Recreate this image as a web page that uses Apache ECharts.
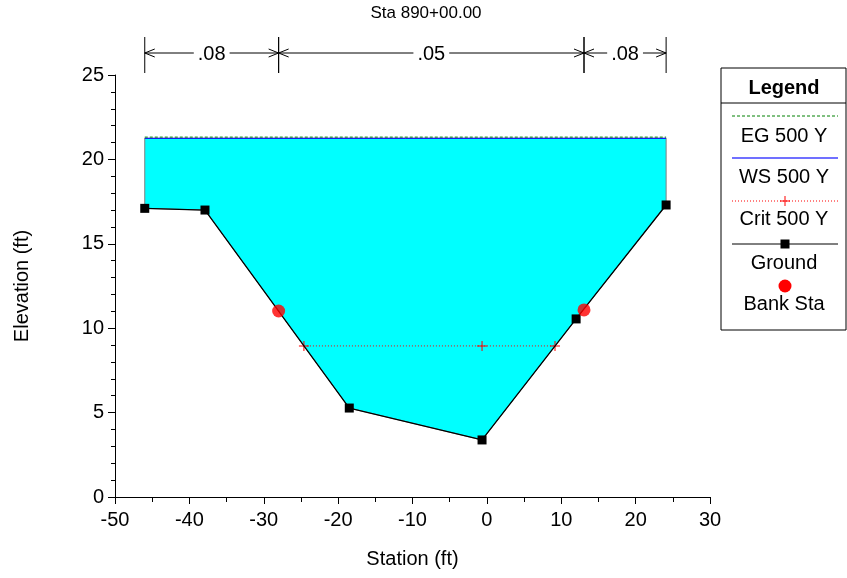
<!DOCTYPE html>
<html><head><meta charset="utf-8">
<script src="https://cdn.jsdelivr.net/npm/echarts@6/dist/echarts.min.js"></script>
<style>html,body{margin:0;padding:0;background:#fff}#c{width:847px;height:578px}</style>
</head><body><div id="c"></div>
<script>
// ---- data ----
const groundX = [-46.0, -37.9, -18.5, -0.65, 12.0, 24.1];
const groundY = [17.1, 17.0, 5.27, 3.38, 10.55, 17.3];
const bankX = [-28.0, 13.06];
const bankY = [11.02, 11.08];
const critX = [-24.6, -0.65, 9.16];
const critY = [8.95, 8.95, 8.95];
const wsElev = 21.25;
const egElev = 21.32;
const nBreaks = [-46.0, -28.0, 13.06, 24.1];
const nValues = ['.08', '.05', '.08'];
const xTicks = [-50, 30, 10];
const yTicks = [0, 25, 5];

const FONT = 'Liberation Sans, Arial, sans-serif';
const FS = 20;
const chart = echarts.init(document.getElementById('c'), null, {renderer: 'canvas'});

const groundData = groundX.map((x, i) => [x, groundY[i]]);
const bankData = bankX.map((x, i) => [x, bankY[i]]);
const critData = critX.map((x, i) => [x, critY[i]]);
const wsData = [[groundX[0], wsElev], [groundX[groundX.length - 1], wsElev]];
const egData = [[groundX[0], egElev], [groundX[groundX.length - 1], egElev]];
const nData = nValues.map((v, i) => [nBreaks[i], nBreaks[i + 1], v]);

const plusPath = 'path://M4.5,0H5.5V4.5H10V5.5H5.5V10H4.5V5.5H0V4.5H4.5Z';
const txt = (t, y, bold) => ({type: 'text', x: 63, y: y, style: {text: t, fill: '#000',
  font: (bold ? 'bold ' : '') + FS + 'px ' + FONT, align: 'center', verticalAlign: 'middle'}});

const option = {
  animation: false,
  backgroundColor: '#fff',
  title: {
    text: 'Sta 890+00.00', left: 421, top: 0, textAlign: 'center',
    textStyle: {fontFamily: FONT, fontSize: 17, fontWeight: 'normal', color: '#000'}
  },
  grid: {left: 115, top: 75, width: 595, height: 422},
  xAxis: {
    type: 'value', min: xTicks[0], max: xTicks[1], interval: xTicks[2],
    name: 'Station (ft)', nameLocation: 'middle', nameGap: 52,
    nameTextStyle: {fontFamily: FONT, fontSize: FS, color: '#000'},
    axisLine: {show: true, onZero: false, lineStyle: {color: '#000', width: 1}},
    axisTick: {show: true, length: 7, inside: false, lineStyle: {color: '#000'}},
    minorTick: {show: true, splitNumber: 2, length: 5, lineStyle: {color: '#000'}},
    axisLabel: {fontFamily: FONT, fontSize: FS, color: '#000', margin: 13},
    splitLine: {show: false}
  },
  yAxis: {
    type: 'value', min: yTicks[0], max: yTicks[1], interval: yTicks[2],
    name: 'Elevation (ft)', nameLocation: 'middle', nameGap: 83, nameRotate: 90,
    nameTextStyle: {fontFamily: FONT, fontSize: FS, color: '#000'},
    axisLine: {show: true, onZero: false, lineStyle: {color: '#000', width: 1}},
    axisTick: {show: true, length: 7, lineStyle: {color: '#000'}},
    minorTick: {show: true, splitNumber: 5, length: 4, lineStyle: {color: '#000'}},
    axisLabel: {fontFamily: FONT, fontSize: FS, color: '#000', margin: 11},
    splitLine: {show: false}
  },
  series: [
    {
      type: 'custom', z: 1, silent: true,
      data: [0],
      renderItem: function (params, api) {
        const pts = [api.coord([groundX[0], wsElev])];
        groundData.forEach(p => pts.push(api.coord(p)));
        pts.push(api.coord([groundX[groundX.length - 1], wsElev]));
        return {type: 'polygon', shape: {points: pts},
          style: {fill: '#00ffff', stroke: '#808080', lineWidth: 1}};
      }
    },
    {
      name: 'WS 500 Y', type: 'line', data: wsData, symbol: 'none', z: 3,
      lineStyle: {color: '#0000ff', width: 1}
    },
    {
      name: 'EG 500 Y', type: 'line', data: egData, symbol: 'none', z: 4,
      lineStyle: {color: '#008000', width: 1, type: [3, 2]}
    },
    {
      name: 'Crit 500 Y', type: 'line', data: critData, z: 5,
      symbol: plusPath, symbolSize: 10, showAllSymbol: true,
      itemStyle: {color: '#ff0000'},
      lineStyle: {color: '#ff0000', width: 1, type: [1, 2]}
    },
    {
      name: 'Ground', type: 'line', data: groundData, z: 6,
      symbol: 'rect', symbolSize: 9, showAllSymbol: true,
      itemStyle: {color: '#000'},
      lineStyle: {color: '#000', width: 1.3}
    },
    {
      name: 'Bank Sta', type: 'scatter', data: bankData, z: 7,
      symbol: 'circle', symbolSize: 13, itemStyle: {color: '#ff0000'}
    },
    {
      type: 'custom', z: 8, silent: true, clip: false,
      data: nData,
      renderItem: function (params, api) {
        const x1 = api.coord([api.value(0), 25])[0];
        const x2 = api.coord([api.value(1), 25])[0];
        const top = api.coord([api.value(0), 25])[1];
        const yTop = top - 38, yBot = top - 2, y = top - 22;
        const label = nValues[params.dataIndex];
        const ls = {stroke: '#000', lineWidth: 1, fill: null};
        return {type: 'group', children: [
          {type: 'line', shape: {x1: x1, y1: yTop, x2: x1, y2: yBot}, style: ls},
          {type: 'line', shape: {x1: x2, y1: yTop, x2: x2, y2: yBot}, style: ls},
          {type: 'line', shape: {x1: x1, y1: y, x2: x2, y2: y}, style: ls},
          {type: 'polyline', shape: {points: [[x1 + 10, y - 4], [x1, y], [x1 + 10, y + 4]]}, style: ls},
          {type: 'polyline', shape: {points: [[x2 - 10, y - 4], [x2, y], [x2 - 10, y + 4]]}, style: ls},
          {type: 'text', x: (x1 + x2) / 2, y: y + 1, style: {text: label, fill: '#000',
            font: FS + 'px ' + FONT, align: 'center', verticalAlign: 'middle',
            backgroundColor: '#fff', padding: [0, 4]}}
        ]};
      }
    }
  ],
  graphic: [
    {type: 'group', x: 721, y: 68, children: [
      {type: 'rect', shape: {x: 0, y: 0, width: 125, height: 262},
        style: {fill: '#fff', stroke: '#000', lineWidth: 1}},
      txt('Legend', 20, true),
      {type: 'line', shape: {x1: 0, y1: 35, x2: 125, y2: 35}, style: {stroke: '#000', lineWidth: 1}},
      {type: 'line', shape: {x1: 11, y1: 48, x2: 117, y2: 48}, style: {stroke: '#008000', lineWidth: 1, lineDash: [3, 2]}},
      txt('EG 500 Y', 68),
      {type: 'line', shape: {x1: 11, y1: 90, x2: 117, y2: 90}, style: {stroke: '#4040ff', lineWidth: 1.5}},
      txt('WS 500 Y', 109),
      {type: 'line', shape: {x1: 11, y1: 133, x2: 117, y2: 133}, style: {stroke: '#ff0000', lineWidth: 1, lineDash: [1, 2]}},
      {type: 'line', shape: {x1: 59, y1: 133, x2: 69, y2: 133}, style: {stroke: '#ff0000', lineWidth: 1}},
      {type: 'line', shape: {x1: 64, y1: 128, x2: 64, y2: 138}, style: {stroke: '#ff0000', lineWidth: 1}},
      txt('Crit 500 Y', 151),
      {type: 'line', shape: {x1: 11, y1: 176, x2: 117, y2: 176}, style: {stroke: '#000', lineWidth: 1}},
      {type: 'rect', shape: {x: 59.5, y: 171.5, width: 9, height: 9}, style: {fill: '#000'}},
      txt('Ground', 195),
      {type: 'circle', shape: {cx: 64, cy: 218, r: 6.5}, style: {fill: '#ff0000'}},
      txt('Bank Sta', 236)
    ]}
  ]
};
chart.setOption(option);
</script>
</body></html>
